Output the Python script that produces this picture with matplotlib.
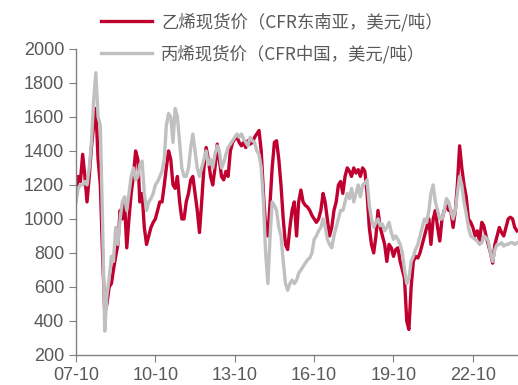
import matplotlib.pyplot as plt
import matplotlib.dates as mdates
import pandas as pd

# 月度数据：2007-10 至 2024-06
meses = pd.date_range('2007-10-01', '2024-06-01', freq='MS')

# 乙烯现货价（CFR东南亚，美元/吨）
etileno = [
    1150, 1250, 1220,
    1380, 1250, 1100, 1250, 1420, 1550, 1650, 1350, 1200, 800, 450, 500,
    600, 620, 700, 780, 850, 1050, 1000, 1100, 830, 1000, 1150, 1250,
    1400, 1350, 1100, 1150, 950, 850, 900, 950, 980, 1000, 1050, 1100,
    1100, 1200, 1300, 1400, 1350, 1200, 1180, 1250, 1100, 1000, 1000, 1100,
    1150, 1230, 1250, 1150, 1050, 920, 1100, 1300, 1420, 1350, 1250, 1200,
    1300, 1440, 1350, 1250, 1230, 1280, 1250, 1400, 1450, 1470, 1480, 1450,
    1430, 1450, 1420, 1460, 1440, 1450, 1480, 1500, 1520, 1400, 1150, 950,
    900, 1100, 1300, 1450, 1460, 1350, 1200, 1000, 850, 820, 950, 1050,
    1100, 900, 1100, 1170, 1100, 1080, 1070, 1050, 1020, 1000, 980, 1000,
    1050, 1150, 1100, 1000, 900, 950, 1050, 1100, 1200, 1220, 1150, 1250,
    1300, 1280, 1250, 1300, 1270, 1290, 1250, 1300, 1280, 1150, 950, 850,
    800, 900, 1050, 950, 900, 850, 750, 850, 830, 780, 820, 830,
    750, 700, 650, 400, 350, 600, 750, 780, 770, 800, 850, 900,
    950, 1000, 850, 1000, 1050, 950, 870, 1000, 1050, 1080, 1050, 1050,
    950, 1050, 1200, 1430, 1300, 1200, 1130, 1000, 980, 950, 900, 930,
    870, 980, 960, 900, 850, 800, 740, 850, 900, 950, 920, 900,
    950, 1000, 1010, 1000, 950, 930,
]

# 丙烯现货价（CFR中国，美元/吨）
propileno = [
    1100, 1180, 1200,
    1200, 1220, 1200, 1300, 1450, 1700, 1860, 1600, 1550, 1000, 340, 550,
    650, 780, 750, 950, 850, 1000, 1100, 1130, 1050, 1150, 1250, 1300,
    1230, 1250, 1320, 1340, 1150, 1050, 1100, 1120, 1150, 1200, 1220, 1250,
    1280, 1350, 1550, 1620, 1600, 1450, 1650, 1600, 1450, 1300, 1250, 1250,
    1300, 1420, 1500, 1400, 1300, 1250, 1300, 1350, 1400, 1320, 1350, 1300,
    1380, 1430, 1400, 1300, 1330, 1380, 1420, 1440, 1460, 1480, 1500, 1480,
    1500, 1470, 1450, 1430, 1480, 1460, 1450, 1400, 1380, 1300, 1100, 800,
    620, 900, 1100, 1080, 1050, 950, 900, 750, 620, 580, 620, 640,
    620, 640, 680, 700, 720, 740, 760, 770, 800, 880, 900, 930,
    950, 1000, 960, 880, 850, 830, 900, 950, 1000, 1050, 1050, 1100,
    1150, 1120, 1180, 1100, 1150, 1200, 1130, 1200, 1210, 1230, 1080, 1000,
    950, 980, 1000, 960, 970, 930, 950, 980, 920, 880, 900, 880,
    850, 800, 700, 620, 650, 750, 780, 820, 850, 900, 950, 1000,
    980, 1050, 1150, 1200, 1100, 1050, 1000, 1000, 1050, 1120, 1100, 1050,
    1000, 1050, 1150, 1250, 1200, 1100, 1030, 950, 900, 890, 880, 870,
    850, 860, 900, 890, 870, 800, 750, 820, 850, 850, 860, 840,
    850, 850, 860, 860, 850, 860,
]

rotulo_eti = '乙烯现货价（CFR东南亚，美元/吨）'
rotulo_pro = '丙烯现货价（CFR中国，美元/吨）'
anos_ticks = ['2007-10-01', '2010-10-01', '2013-10-01', '2016-10-01', '2019-10-01', '2022-10-01']

plt.rcParams['font.family'] = ['Liberation Sans', 'Noto Sans CJK SC', 'DejaVu Sans']

fig = plt.figure(figsize=(5.18, 3.85), dpi=100)
ax = fig.add_axes([0.1467, 0.078, 0.8533, 0.795])

l1, = ax.plot(meses, etileno, color='#C0002F', lw=2.4, label=rotulo_eti)
l2, = ax.plot(meses, propileno, color='#C0C0C0', lw=2.4, label=rotulo_pro)

ax.set_ylim(200, 2000)
ax.set_yticks(range(200, 2001, 200))
ax.set_xlim(pd.Timestamp('2007-10-01'), pd.Timestamp('2024-06-15'))
ax.set_xticks([pd.Timestamp(t) for t in anos_ticks])
ax.xaxis.set_major_formatter(mdates.DateFormatter('%y-%m'))

for lado in ['top', 'right']:
    ax.spines[lado].set_visible(False)
for lado in ['left', 'bottom']:
    ax.spines[lado].set_color('#808080')
    ax.spines[lado].set_linewidth(1.0)
ax.tick_params(colors='#808080', labelcolor='#595959', labelsize=13,
               direction='out', length=5)
ax.tick_params(axis='x', pad=4)

fig.legend(handles=[l1, l2], loc='upper left', bbox_to_anchor=(0.172, 0.998),
           frameon=False, labelspacing=0.75, handlelength=2.9,
           handletextpad=0.55, borderpad=0.2,
           prop={'family': ['Noto Sans CJK SC', 'DejaVu Sans'], 'size': 12.5},
           labelcolor='#595959')

fig.savefig('out.png', dpi=100)
